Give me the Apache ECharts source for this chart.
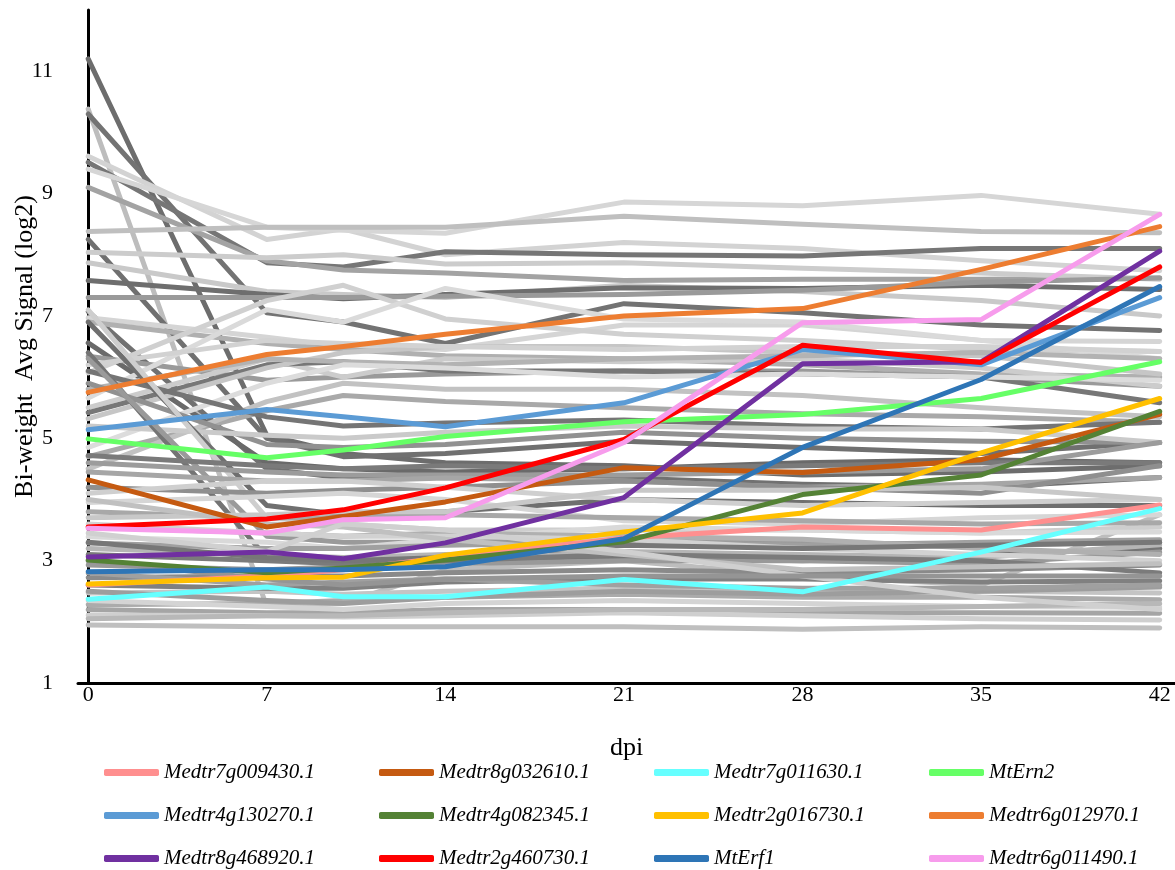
<!DOCTYPE html>
<html>
<head>
<meta charset="utf-8">
<script src="https://cdn.jsdelivr.net/npm/echarts@6/dist/echarts.min.js"></script>
<style>
html,body{margin:0;padding:0;background:#fff;}
#chart{width:1175px;height:870px;}
</style>
</head>
<body>
<div id="chart"></div>
<script>
// x values (days post inoculation)
const days = [0, 7, 10, 14, 21, 28, 35, 42];
const xTickLabels = [0, 7, 14, 21, 28, 35, 42];
const yTickLabels = [1, 3, 5, 7, 9, 11];

// highlighted genes
const geneNames = ['Medtr7g009430.1','Medtr8g032610.1','Medtr7g011630.1','MtErn2',
  'Medtr4g130270.1','Medtr4g082345.1','Medtr2g016730.1','Medtr6g012970.1',
  'Medtr8g468920.1','Medtr2g460730.1','MtErf1','Medtr6g011490.1'];
const Medtr7g009430 = [2.6, 2.75, 2.85, 3.05, 3.37, 3.55, 3.5, 3.91];
const Medtr8g032610 = [4.32, 3.55, 3.72, 3.96, 4.52, 4.44, 4.65, 5.39];
const Medtr7g011630 = [2.37, 2.57, 2.41, 2.41, 2.69, 2.49, 3.14, 3.85];
const MtErn2 = [4.99, 4.68, 4.81, 5.03, 5.27, 5.39, 5.65, 6.25];
const Medtr4g130270 = [5.14, 5.47, 5.35, 5.19, 5.58, 6.45, 6.2, 7.3];
const Medtr4g082345 = [3.01, 2.8, 2.88, 3.01, 3.31, 4.08, 4.4, 5.44];
const Medtr2g016730 = [2.62, 2.72, 2.73, 3.09, 3.47, 3.78, 4.76, 5.65];
const Medtr6g012970 = [5.75, 6.37, 6.5, 6.7, 7.0, 7.12, 7.76, 8.46];
const Medtr8g468920 = [3.06, 3.14, 3.03, 3.29, 4.03, 6.22, 6.25, 8.06];
const Medtr2g460730 = [3.55, 3.68, 3.83, 4.19, 4.98, 6.52, 6.24, 7.8];
const MtErf1 = [2.82, 2.85, 2.85, 2.9, 3.36, 4.85, 5.96, 7.48];
const Medtr6g011490 = [3.53, 3.45, 3.67, 3.7, 4.93, 6.89, 6.94, 8.66];
const geneValues = [Medtr7g009430, Medtr8g032610, Medtr7g011630, MtErn2,
  Medtr4g130270, Medtr4g082345, Medtr2g016730, Medtr6g012970,
  Medtr8g468920, Medtr2g460730, MtErf1, Medtr6g011490];
const geneColors = ['#ff8f8f','#c55a11','#66ffff','#66ff66','#5b9bd5','#548235',
  '#ffc000','#ed7d31','#7030a0','#ff0000','#2e75b6','#f79cec'];

// background genes (grey)
const greyValues = [
  [11.2, 5.05, 4.75, 4.6, 4.55, 4.4, 4.45, 4.55],
  [10.38, 2.25, 2.3, 2.85, 3.0, 2.75, 2.6, 3.75],
  [10.3, 7.05, 6.9, 6.55, 7.2, 7.05, 6.85, 6.76],
  [9.61, 8.25, 8.42, 8.0, 8.2, 8.1, 7.9, 7.74],
  [9.51, 7.87, 7.8, 8.05, 8.0, 7.98, 8.1, 8.1],
  [9.4, 8.45, 8.4, 8.35, 8.86, 8.8, 8.97, 8.66],
  [9.1, 7.9, 7.75, 7.7, 7.58, 7.6, 7.6, 7.62],
  [8.38, 8.45, 8.45, 8.45, 8.63, 8.5, 8.38, 8.36],
  [8.25, 5.0, 4.7, 4.75, 4.95, 4.85, 4.75, 4.93],
  [8.04, 7.95, 8.0, 7.85, 7.87, 7.78, 7.7, 7.6],
  [7.87, 7.4, 7.35, 7.3, 7.5, 7.4, 7.25, 7.0],
  [7.58, 7.35, 7.28, 7.35, 7.46, 7.45, 7.5, 7.43],
  [7.3, 7.3, 7.3, 7.32, 7.35, 7.42, 7.55, 7.62],
  [7.07, 4.5, 4.35, 4.4, 4.35, 4.25, 4.2, 4.36],
  [6.97, 6.65, 6.5, 6.45, 6.85, 6.85, 6.6, 6.58],
  [6.9, 6.55, 6.45, 6.35, 6.3, 6.2, 6.05, 6.0],
  [6.56, 4.6, 4.5, 4.45, 4.5, 4.6, 4.65, 4.6],
  [6.34, 5.95, 6.0, 6.05, 6.1, 6.1, 6.0, 5.85],
  [6.07, 7.25, 7.5, 6.95, 6.7, 6.6, 6.45, 6.42],
  [5.66, 7.1, 6.9, 7.45, 6.95, 6.9, 6.6, 6.3],
  [5.5, 6.3, 6.0, 6.3, 6.25, 6.3, 6.15, 5.85],
  [5.42, 6.2, 6.25, 6.1, 6.1, 6.05, 6.0, 5.58],
  [5.32, 6.15, 6.4, 6.5, 6.5, 6.4, 6.35, 6.05],
  [6.2, 6.6, 6.55, 6.5, 6.45, 6.5, 6.5, 6.42],
  [5.8, 6.3, 6.25, 6.2, 6.3, 6.35, 6.4, 6.3],
  [4.85, 5.9, 6.2, 6.15, 6.0, 6.05, 6.0, 5.95],
  [4.7, 5.45, 5.7, 5.6, 5.5, 5.4, 5.35, 5.26],
  [4.5, 5.6, 5.9, 5.8, 5.8, 5.7, 5.5, 5.35],
  [5.9, 4.9, 4.85, 4.9, 5.1, 5.0, 4.95, 4.93],
  [6.1, 5.35, 5.2, 5.25, 5.3, 5.2, 5.15, 5.26],
  [5.2, 5.05, 5.0, 5.1, 5.2, 5.15, 5.15, 4.93],
  [6.9, 3.9, 3.75, 3.8, 4.0, 3.95, 3.9, 3.9],
  [6.4, 3.05, 2.95, 3.0, 3.05, 3.0, 3.1, 3.2],
  [7.1, 3.7, 3.6, 3.5, 3.5, 3.5, 3.45, 3.55],
  [6.3, 3.4, 3.3, 3.3, 3.35, 3.3, 3.25, 3.3],
  [4.72, 4.55, 4.5, 4.55, 4.5, 4.55, 4.6, 4.6],
  [4.6, 4.45, 4.4, 4.4, 4.4, 4.45, 4.5, 4.93],
  [4.45, 4.3, 4.3, 4.35, 4.3, 4.2, 4.25, 4.36],
  [4.2, 4.1, 4.15, 4.2, 4.3, 4.2, 4.1, 4.55],
  [4.1, 4.3, 4.3, 4.2, 4.0, 3.9, 3.95, 4.0],
  [3.95, 4.05, 4.1, 4.0, 3.65, 3.6, 3.7, 3.75],
  [3.8, 3.7, 3.7, 3.75, 3.7, 3.65, 3.6, 3.62],
  [3.7, 3.75, 3.8, 3.8, 4.15, 4.15, 4.2, 4.0],
  [3.39, 3.3, 3.2, 3.35, 3.55, 3.5, 3.45, 3.47],
  [3.29, 3.2, 3.2, 3.25, 3.3, 3.25, 3.3, 3.34],
  [3.2, 3.1, 3.05, 3.1, 3.15, 3.1, 3.05, 3.26],
  [2.93, 2.85, 2.9, 2.95, 3.0, 3.0, 2.95, 3.14],
  [2.72, 2.75, 2.75, 2.8, 2.85, 2.8, 2.85, 2.93],
  [2.47, 2.5, 2.45, 2.5, 2.55, 2.5, 2.5, 2.47],
  [2.28, 2.3, 2.35, 2.4, 2.45, 2.4, 2.4, 2.36],
  [2.2, 2.15, 2.15, 2.2, 2.2, 2.15, 2.15, 2.14],
  [2.11, 2.1, 2.08, 2.1, 2.15, 2.1, 2.05, 2.03],
  [1.95, 1.92, 1.92, 1.92, 1.92, 1.88, 1.92, 1.9],
  [3.1, 3.0, 2.95, 3.0, 3.1, 3.05, 3.0, 2.8],
  [2.6, 2.55, 2.55, 2.65, 2.7, 2.7, 2.65, 2.67],
  [3.55, 3.45, 3.4, 3.45, 3.4, 3.35, 3.2, 3.1],
  [3.6, 3.45, 3.4, 3.4, 3.35, 3.2, 3.1, 3.0],
  [2.5, 2.35, 2.3, 2.4, 2.5, 2.45, 2.5, 2.57],
  [2.35, 2.25, 2.2, 2.3, 2.35, 2.3, 2.25, 2.24],
  [3.3, 3.05, 3.0, 3.05, 3.25, 3.2, 3.25, 3.3],
  [2.8, 2.6, 2.65, 2.7, 2.6, 2.55, 2.55, 2.6],
  [4.0, 3.6, 3.55, 3.35, 3.1, 2.85, 2.9, 2.95],
  [2.05, 2.1, 2.1, 2.15, 2.2, 2.2, 2.25, 2.3],
  [3.45, 3.15, 3.6, 3.5, 3.15, 2.75, 2.4, 2.2],
  [3.0, 2.7, 2.6, 2.7, 2.75, 2.75, 2.75, 2.75]
];
const greyShades = ['#6d6d6d','#bdbdbd','#737373','#d3d3d3','#767676','#d6d6d6','#a3a3a3','#bfbfbf',
  '#707070','#cccccc','#c9c9c9','#6e6e6e','#9a9a9a','#717171','#d5d5d5','#b0b0b0','#6a6a6a','#9a9a9a',
  '#d0d0d0','#dadada','#cccccc','#777777','#c6c6c6','#d2d2d2','#b3b3b3','#dcdcdc','#a9a9a9','#c2c2c2',
  '#919191','#757575','#cacaca','#6f6f6f','#747474','#cecece','#9a9a9a','#7a7a7a','#9c9c9c','#a6a6a6',
  '#8f8f8f','#cfcfcf','#d6d6d6','#a8a8a8','#c8c8c8','#d9d9d9','#a0a0a0','#b5b5b5','#999999','#8a8a8a',
  '#c4c4c4','#ababab','#a5a5a5','#cfcfcf','#bfbfbf','#7b7b7b','#808080','#b0b0b0','#d2d2d2','#9d9d9d',
  '#d4d4d4','#777777','#a0a0a0','#c0c0c0','#b8b8b8','#d0d0d0','#959595'];

const FONT = '"Liberation Serif","Times New Roman",serif';
const pairs = v => days.map((d, i) => [d, v[i]]);

const series = [];
greyValues.forEach((v, i) => {
  series.push({
    name: 'bg' + i, type: 'line', data: pairs(v), symbol: 'none', silent: true,
    lineStyle: { color: greyShades[i], width: 5, cap: 'round', join: 'round' },
    itemStyle: { color: greyShades[i] }
  });
});
geneNames.forEach((n, i) => {
  series.push({
    name: n, type: 'line', data: pairs(geneValues[i]), symbol: 'none',
    lineStyle: { color: geneColors[i], width: 5, cap: 'round', join: 'round' },
    itemStyle: { color: geneColors[i] }
  });
});

// one vertical legend per column
const legendCol = (c) => ({
  data: [geneNames[c], geneNames[c + 4], geneNames[c + 8]],
  top: 762, left: 104 + 275 * c, orient: 'vertical', padding: 0, height: 108,
  icon: 'roundRect', itemWidth: 55, itemHeight: 7, itemGap: 22,
  textStyle: { fontFamily: FONT, fontStyle: 'italic', fontSize: 21, color: '#000', lineHeight: 21 },
  selectedMode: false
});

const chart = echarts.init(document.getElementById('chart'), null, { renderer: 'canvas' });
chart.setOption({
  animation: false,
  backgroundColor: '#fff',
  grid: { left: 78, right: 0, top: 10, bottom: 187, containLabel: false, outerBoundsMode: 'none' },
  legend: [legendCol(0), legendCol(1), legendCol(2), legendCol(3)],
  xAxis: {
    type: 'value', min: -0.4, max: 42.6,
    name: 'dpi', nameLocation: 'middle', nameGap: 52, nameMoveOverlap: false,
    nameTextStyle: { fontFamily: FONT, fontSize: 26, color: '#000' },
    axisLine: { show: true, onZero: false, lineStyle: { color: '#000', width: 3 } },
    axisTick: { show: false },
    splitLine: { show: false },
    axisLabel: { customValues: xTickLabels, fontFamily: FONT, fontSize: 22, color: '#000', margin: 1 }
  },
  yAxis: {
    type: 'value', min: 1, max: 12,
    name: 'Bi-weight  Avg Signal (log2)', nameLocation: 'middle', nameGap: 40, nameRotate: 90,
    nameMoveOverlap: false,
    nameTextStyle: { fontFamily: FONT, fontSize: 26, color: '#000' },
    axisLine: { show: true, lineStyle: { color: '#000', width: 3 } },
    axisTick: { show: false },
    splitLine: { show: false },
    axisLabel: { customValues: yTickLabels, fontFamily: FONT, fontSize: 22, color: '#000', margin: 25 }
  },
  series: series
});
</script>
</body>
</html>
